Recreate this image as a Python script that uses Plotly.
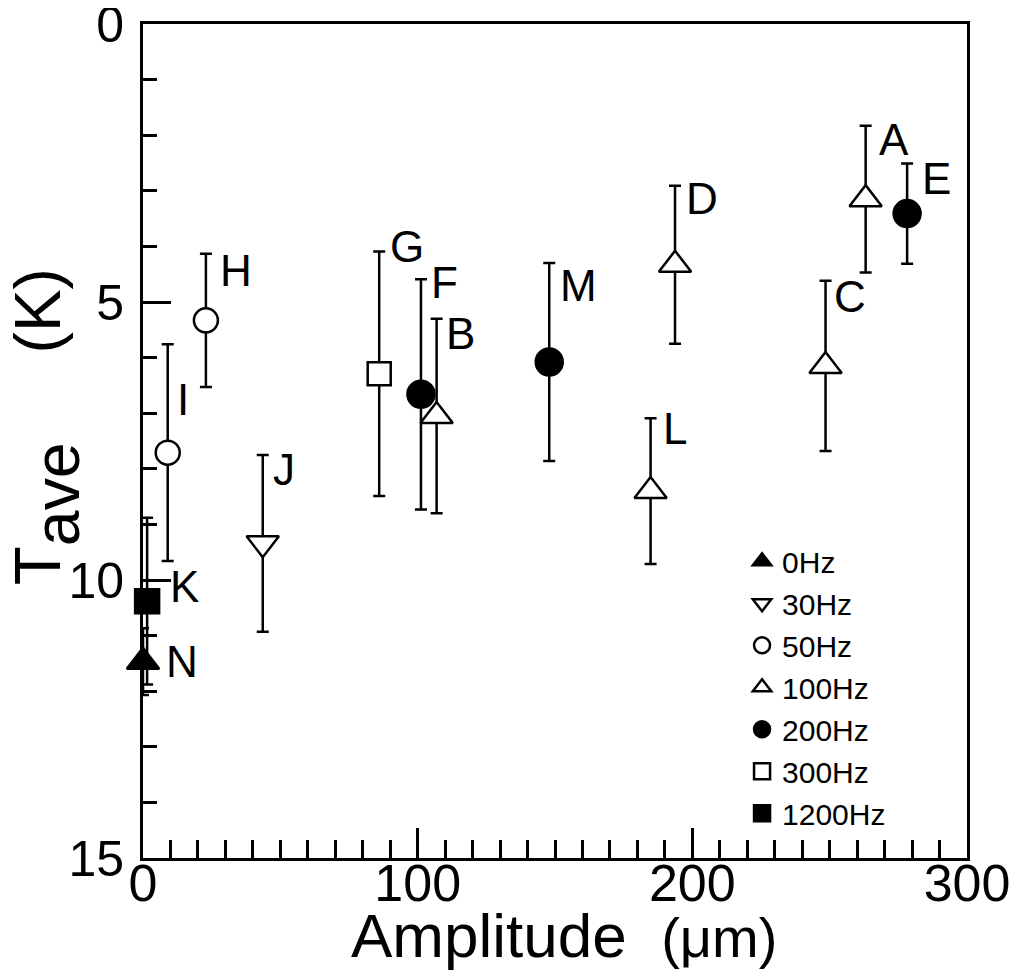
import plotly.graph_objects as go

# ---------------- data ----------------
labels = ["A", "B", "C", "D", "E", "F", "G", "H", "I", "J", "K", "L", "M", "N"]
amplitude = [263.1, 106.9, 248.5, 193.7, 278.2, 101.2, 86.0, 22.9, 9.0, 43.6, 1.5, 184.8, 147.9, 0.0]
t_ave = [3.15, 7.05, 6.15, 4.33, 3.41, 6.66, 6.29, 5.33, 7.71, 9.34, 10.38, 8.40, 6.08, 11.47]
t_err = [1.32, 1.75, 1.53, 1.42, 0.90, 2.07, 2.20, 1.20, 1.95, 1.59, 1.50, 1.31, 1.78, 0.60]
freq = ["100Hz", "100Hz", "100Hz", "100Hz", "200Hz", "200Hz", "300Hz",
        "50Hz", "50Hz", "30Hz", "1200Hz", "100Hz", "200Hz", "0Hz"]
freq_order = ["0Hz", "30Hz", "50Hz", "100Hz", "200Hz", "300Hz", "1200Hz"]
x_ticks = [0, 100, 200, 300]
y_ticks = [0, 5, 10, 15]
x_title = "Amplitude"
x_unit = "(μm)"
y_title_main = "T"
y_title_sub = "ave"
y_unit = "(K)"

# ---------------- styles ----------------
FONT = "Liberation Sans, Arial, sans-serif"
NARROW = "Liberation Sans Narrow, Liberation Sans, Arial, sans-serif"
marker_style = {
    "0Hz": dict(symbol="triangle-up", size=28, color="black"),
    "30Hz": dict(symbol="triangle-down", size=28, color="white"),
    "50Hz": dict(symbol="circle", size=24, color="white"),
    "100Hz": dict(symbol="triangle-up", size=28, color="white"),
    "200Hz": dict(symbol="circle", size=27, color="black"),
    "300Hz": dict(symbol="square", size=23, color="white"),
    "1200Hz": dict(symbol="square", size=24, color="black"),
}
# pixel offsets of each point's letter (dx right, dy up)
label_shift = {"A": (28, 60), "B": (24, 82), "C": (24, 69), "D": (27, 66), "E": (29, 35),
               "F": (24, 112), "G": (28, 127), "H": (30, 50), "I": (15, 53), "J": (21, 74),
               "K": (37, 15), "L": (24, 63), "M": (29, 77), "N": (39, 0)}

fig = go.Figure()
for f in freq_order:
    idx = [i for i, v in enumerate(freq) if v == f]
    st = marker_style[f]
    fig.add_trace(go.Scatter(
        x=[amplitude[i] for i in idx],
        y=[t_ave[i] for i in idx],
        mode="markers",
        name=f,
        cliponaxis=False,
        marker=dict(symbol=st["symbol"], size=st["size"], color=st["color"],
                    line=dict(color="black", width=2.5)),
        error_y=dict(type="data", array=[t_err[i] for i in idx], color="black",
                     thickness=2.5, width=6),
    ))

for i, lab in enumerate(labels):
    dx, dy = label_shift[lab]
    fig.add_annotation(x=amplitude[i], y=t_ave[i], text=lab, showarrow=False,
                       xshift=dx, yshift=dy, xanchor="center", yanchor="middle",
                       font=dict(family=NARROW, size=44, color="black"))

# axis titles
fig.add_annotation(xref="paper", yref="paper", x=0.511, y=-0.093,
                   text=f"{x_title}&nbsp;&nbsp;<span style='font-size:56px'>{x_unit}</span>",
                   showarrow=False, xanchor="center", yanchor="middle",
                   font=dict(family=FONT, size=62, color="black"))
fig.add_annotation(xref="paper", yref="paper", x=-0.116, y=0.517,
                   text=(f"{y_title_main}<span style='font-size:92px'><sub>{y_title_sub}</sub></span>"
                         f"&nbsp;&nbsp;&nbsp;&nbsp;&nbsp;{y_unit}"),
                   textangle=-90, showarrow=False, xanchor="center", yanchor="middle",
                   font=dict(family=FONT, size=64, color="black"))

fig.update_xaxes(
    range=[0, 300], tickmode="array", tickvals=x_ticks, ticktext=[str(v) for v in x_ticks],
    ticks="inside", ticklen=30, tickwidth=2.5, tickcolor="black",
    minor=dict(tickmode="linear", tick0=0, dtick=10, ticks="inside", ticklen=18,
               tickwidth=2.5, tickcolor="black", showgrid=False),
    showline=True, linewidth=3, linecolor="black", mirror=True,
    showgrid=False, zeroline=False, ticklabelstandoff=-22, ticklabeloverflow="allow",
    tickfont=dict(family=FONT, size=52, color="black"),
)
fig.update_yaxes(
    range=[15, 0], tickmode="array", tickvals=y_ticks, ticktext=[str(v) for v in y_ticks],
    ticks="inside", ticklen=28, tickwidth=2.5, tickcolor="black",
    minor=dict(tickmode="linear", tick0=0, dtick=1, ticks="inside", ticklen=14,
               tickwidth=2.5, tickcolor="black", showgrid=False),
    showline=True, linewidth=3, linecolor="black", mirror=True,
    showgrid=False, zeroline=False, ticklabelstandoff=6, ticklabeloverflow="allow",
    tickfont=dict(family=FONT, size=50, color="black"),
)

# the page adds an 8px body margin, so the figure is sized to fit the window
fig.update_layout(
    width=1019, height=969,
    margin=dict(l=135, r=60, t=16, b=119, autoexpand=False),
    paper_bgcolor="white", plot_bgcolor="white",
    font=dict(family=FONT, color="black"),
    showlegend=True,
    legend=dict(x=0.727, y=0.387, xanchor="left", yanchor="top",
                bgcolor="rgba(0,0,0,0)", borderwidth=0,
                font=dict(family=FONT, size=30, color="black")),
)

fig.write_html("out.html")
